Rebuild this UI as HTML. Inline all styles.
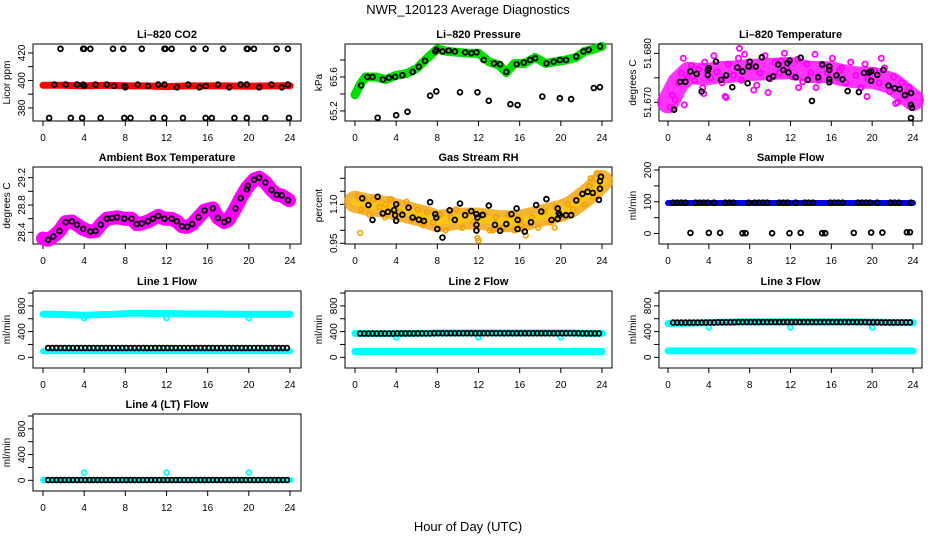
<!DOCTYPE html>
<html><head><meta charset="utf-8"><style>
html,body{margin:0;padding:0;background:#fff;}
svg{display:block;font-family:"Liberation Sans",Arial,sans-serif;}
</style></head><body>
<svg id="chart" width="936" height="540" viewBox="0 0 936 540" xmlns="http://www.w3.org/2000/svg">
<text x="468" y="14" text-anchor="middle" font-size="13">NWR_120123  Average Diagnostics</text>
<text x="468" y="531" text-anchor="middle" font-size="13">Hour of Day (UTC)</text>
</svg>
<script>
// ---------- data ----------
const xTicks = [0,4,8,12,16,20,24];
const flowTimes = [0.5,0.9,1.3,1.7,2.1,2.5,2.9,3.3,3.7,4.1,4.5,4.9,5.3,5.7,6.1,6.5,6.9,7.3,7.7,8.1,8.5,8.9,9.3,9.7,10.1,10.5,10.9,11.3,11.7,12.1,12.5,12.9,13.3,13.7,14.1,14.5,14.9,15.3,15.7,16.1,16.5,16.9,17.3,17.7,18.1,18.5,18.9,19.3,19.7,20.1,20.5,20.9,21.3,21.7,22.1,22.5,22.9,23.3,23.7];
const hours = [0,1,2,3,4,5,6,7,8,9,10,11,12,13,14,15,16,17,18,19,20,21,22,23,24];

// CO2
const co2BandT = [0,2,4,6,8,10,12,14,16,18,20,22,24];
const co2BandV = [396.5,396.5,396,396.5,396,396,395.5,396,396,396,395.8,396,396.2];
const co2T = [1.1,2.2,3.3,3.9,4,5.1,6.2,6.9,7.9,8,9.2,10.2,11.2,11.8,13,14.1,15.2,15.8,17,18.1,19.2,19.8,21,22.2,23.2,23.8, 1.7,3.9,4,4.6,6.8,7.8,9.6,11.8,11.9,12.5,14.6,15.8,17.5,19.8,19.9,20.5,22.7,23.8, 0.6,2.7,3.8,5.6,7.9,8.5,10.7,11.8,13.6,15.8,16.4,18.6,19.8,21.6,23.9];
const co2V = [397,397,397,397,396,397,397,396,396,395,397,396,397,397,395,397,395,396,397,395,397,397,395,397,395,397, 423,423,423,423,423,423,423,423,423,423,423,423,423,423,423,423,423,423, 372.7,372.7,372.7,372.7,372.7,372.7,372.7,372.7,372.7,372.7,372.7,372.7,372.7,372.7,372.7];

// Pressure
const presBandT = [0,0.5,1,2,3,4,5,6,7,8,9,10,11,12,13,14,14.7,15.5,16.5,17.5,18.5,19.5,20.5,21.5,22.3,23,24];
const presBandV = [65.39,65.51,65.6,65.6,65.57,65.62,65.64,65.7,65.82,65.93,65.9,65.89,65.88,65.88,65.78,65.74,65.65,65.76,65.76,65.83,65.76,65.78,65.8,65.83,65.9,65.92,65.96];
const presT = [0.6,1.2,1.7,2.7,3.3,3.9,4.6,5.6,6.2,6.8,7.8,7.9,8.5,9.1,9.7,10.7,11.3,11.8,12.5,13.5,14.1,14.7,15.7,16.4,17,17.5,18.6,19.3,19.9,20.5,21.5,22.2,22.7,23.8, 2.2,4,5.1,7.3,7.9,10.2,11.9,13,15.1,15.8,18.2,19.9,21,23.2,23.8];
const presV = [65.5,65.6,65.6,65.57,65.59,65.6,65.62,65.66,65.72,65.79,65.9,65.92,65.9,65.91,65.9,65.89,65.88,65.89,65.8,65.76,65.75,65.66,65.75,65.77,65.8,65.82,65.76,65.78,65.8,65.8,65.84,65.9,65.92,65.96, 65.12,65.15,65.19,65.38,65.43,65.42,65.42,65.32,65.28,65.27,65.37,65.35,65.34,65.47,65.48];

// Li-820 temperature
const tempBandV = [51.6700,51.6740,51.6760,51.6758,51.6758,51.6762,51.6762,51.6764,51.6766,51.6767,51.6768,51.6769,51.6770,51.6766,51.6762,51.6762,51.6761,51.6756,51.6752,51.6750,51.6750,51.6745,51.6738,51.6722,51.6705];
const tempPinkT = [0.2,0.4,0.7,1.0,1.3,1.5,1.9,2.3,2.6,3.0,3.4,3.6,4.2,4.5,4.8,5.3,5.6,5.9,6.4,6.9,7.2,7.5,8.2,8.7,9.0,9.5,10.0,10.5,10.9,11.4,11.6,12.2,12.7,13.2,13.6,14.0,14.4,14.8,15.2,15.6,16.1,16.6,17.0,17.4,17.9,18.4,18.9,19.3,19.6,20.2,20.7,21.2,21.7,22.1,22.5,22.9,23.3,23.6,1.6,5.7,7.0,9.8,11.1,14.5,19.5,22.3,3.5,8.4,12.8,16.8,20.9];
const tempPinkV = [51.6690,51.6715,51.6705,51.6740,51.6760,51.6790,51.6752,51.6775,51.6745,51.6768,51.6730,51.6782,51.6750,51.6795,51.6762,51.6740,51.6712,51.6778,51.6755,51.6790,51.6745,51.6798,51.6772,51.6735,51.6760,51.6795,51.6748,51.6782,51.6760,51.6800,51.6770,51.6752,51.6788,51.6742,51.6778,51.6760,51.6798,51.6745,51.6775,51.6760,51.6790,51.6750,51.6770,51.6740,51.6782,51.6755,51.6730,51.6778,51.6748,51.6765,51.6740,51.6770,51.6722,51.6752,51.6700,51.6740,51.6712,51.6730,51.6695,51.6710,51.6810,51.6720,51.6785,51.6730,51.6712,51.6698,51.6718,51.6725,51.6730,51.6765,51.6790];
const tempT = [0.6,1.2,1.7,2.2,2.8,3.3,3.9,3.9,4,4.7,5.2,5.7,6.3,6.8,7.3,7.8,7.9,8,8.6,9.2,9.9,10.3,10.8,11.3,11.7,11.8,11.9,12.5,13,13.7,14.1,14.7,15.1,15.8,15.8,15.8,15.8,16.5,17.1,17.6,18.7,19.2,19.7,19.9,19.9,20.5,21.1,21.6,22.2,22.7,23.2,23.8,23.8,23.9,23.8];
const tempV = [51.6685,51.6742,51.6742,51.6763,51.6758,51.6722,51.6766,51.6756,51.6770,51.6783,51.6746,51.6755,51.6731,51.6771,51.6763,51.6739,51.6773,51.6783,51.6773,51.6792,51.6749,51.6753,51.6777,51.6766,51.6780,51.6761,51.6785,51.6751,51.6791,51.6746,51.6703,51.6751,51.6777,51.6773,51.6766,51.6747,51.6741,51.6755,51.6747,51.6723,51.6721,51.6760,51.6761,51.6763,51.6744,51.6756,51.6766,51.6734,51.6729,51.6727,51.6715,51.6719,51.6695,51.6689,51.6668];

// Ambient box temperature
const ambBandT = [0,0.5,1,1.6,2.2,2.8,3.3,3.9,4.6,5.1,5.6,6.2,6.7,7.2,7.9,8.6,9.1,9.6,10.2,10.7,11.2,11.8,12.5,13,13.5,14,14.5,15.1,15.7,16.5,17,17.6,18,18.7,19.2,19.8,20.5,21,21.6,22.2,22.7,23.2,23.9];
const ambBandV = [28.31,28.29,28.34,28.42,28.55,28.56,28.51,28.45,28.41,28.42,28.51,28.6,28.61,28.62,28.6,28.6,28.52,28.53,28.56,28.6,28.64,28.6,28.6,28.56,28.49,28.48,28.52,28.62,28.72,28.75,28.61,28.55,28.58,28.75,28.9,29.05,29.17,29.2,29.13,29.02,28.95,28.94,28.87];
const ambT = [0.5,1,1.6,2.2,2.8,3.3,3.9,4.6,5.1,5.6,6.2,6.7,7.2,7.9,8.6,9.1,9.6,10.2,10.7,11.2,11.8,12.5,13,13.5,14,14.5,15.1,15.7,16.5,17,17.6,18,18.7,19.2,19.8,19.9,20.5,21,21.6,22.2,22.7,23.2,23.8];
const ambV = [28.29,28.34,28.42,28.55,28.56,28.51,28.45,28.41,28.42,28.51,28.6,28.61,28.62,28.6,28.6,28.52,28.53,28.56,28.6,28.64,28.6,28.6,28.56,28.49,28.48,28.52,28.62,28.72,28.75,28.61,28.55,28.58,28.75,28.9,29.03,29.08,29.17,29.2,29.13,29.02,28.95,28.94,28.87];

// Gas stream RH
const rhBandV = [1.11,1.10,1.095,1.09,1.08,1.07,1.06,1.05,1.035,1.04,1.045,1.045,1.045,1.04,1.035,1.035,1.035,1.045,1.055,1.065,1.075,1.09,1.12,1.15,1.19];
const rhOrangeT = [0.3,0.6,0.9,1.4,1.8,2.4,2.9,3.5,4.4,5.0,5.5,6.1,6.6,7.0,7.6,8.2,8.8,9.3,9.8,10.4,10.9,11.5,12.0,12.6,13.1,13.7,14.3,14.9,15.5,16.0,16.6,17.2,17.8,18.4,19.0,19.5,20.1,20.7,21.2,21.8,22.3,22.8,23.2,23.5,0.5,3.0,6.5,11.9,13.4,16.2,19.4,22.9];
const rhOrangeV = [1.13,1.08,1.12,1.06,1.12,1.09,1.05,1.12,1.07,1.11,1.04,1.08,1.02,1.07,1.03,1.06,1.00,1.05,1.08,1.01,1.07,1.03,0.96,1.06,1.00,1.05,1.01,1.06,1.00,1.04,0.98,1.05,1.01,1.07,1.03,1.09,1.05,1.10,1.08,1.13,1.10,1.17,1.13,1.22,0.99,1.10,1.03,0.97,1.00,1.02,1.01,1.20];
const rhT = [0.7,1.3,1.7,2.2,2.7,3.2,3.8,3.9,4,4,4.6,5.2,5.6,6.2,6.7,7.3,7.8,7.9,8,8.5,9.2,9.7,10.2,10.7,11.3,11.8,11.9,11.8,11.8,12.4,13,13.6,14.1,14.7,15.2,15.7,15.8,15.8,16.5,17.1,17.6,18.1,18.6,19.1,19.7,19.7,19.8,19.9,20.5,21,21.5,22.1,22.6,23.1,23.7,23.8,23.8,23.9];
const rhV = [1.123,1.097,1.04,1.129,1.065,1.071,1.078,1.058,1.037,1.10,1.06,1.087,1.049,1.041,1.036,1.108,1.062,1.049,1.005,0.972,1.077,1.04,1.103,1.058,1.074,1.062,1.049,1.021,0.999,1.059,1.095,1.021,0.998,1.024,1.062,1.084,1.04,1.005,0.995,1.031,1.097,1.072,1.12,1.04,1.044,1.084,1.065,1.058,1.058,1.058,1.115,1.14,1.148,1.144,1.117,1.16,1.189,1.206];

// Sample flow
const sampBandV = [96,96,96,96,96,96,96,96,96,96,96,96,96,96,96,96,96,96,96,96,96,96,96,96,96];
const sampT = [0.5,0.9,1.3,1.7,2.7,3.1,3.5,3.9,4.5,5.6,6.0,6.4,7.9,8.5,8.9,9.3,9.7,10.9,11.3,11.7,12.5,13.4,13.8,14.2,15.9,16.3,16.7,17.1,18.6,19.0,19.4,19.8,20.5,21.8,22.2,22.6,23.8, 2.2,4,5.1,7.3,7.6,10.2,11.9,13,15.1,15.4,18.2,19.9,21,23.4,23.7];
const sampV = [97,97,97,97,97,97,97,97,97,97,97,97,97,97,97,97,97,97,97,97,97,97,97,97,97,97,97,97,97,97,97,97,97,97,97,97,97, 2,2,2,1,1,1,1,2,1,1,2,3,3,4,4];

// Line flows
const l1Upper = [670,670,665,660,655,660,665,670,680,685,685,680,680,680,675,675,675,675,670,670,670,670,670,670,670];
const l1Lower = [95,95,95,95,95,95,95,95,95,95,95,95,95,95,95,95,95,95,95,95,95,95,95,95,95];
const l1Black = [145,145,145,145,145,145,145,145,145,145,145,145,145,145,145,145,145,145,145,145,145,145,145,145,145,145,145,145,145,145,145,145,145,145,145,145,145,145,145,145,145,145,145,145,145,145,145,145,145,145,145,145,145,145,145,145,145,145,145];
const l2Upper = [372,370,368,368,368,370,372,375,378,378,378,378,378,378,378,378,378,378,378,378,378,378,375,372,372];
const l2Lower = [90,90,90,90,90,90,90,90,90,90,90,90,90,90,90,90,90,90,90,90,90,90,90,90,90];
const l2Black = [370,370,370,370,370,370,370,370,370,372,372,372,372,372,372,372,372,372,374,374,374,374,374,374,374,374,374,374,374,374,374,374,374,374,374,374,374,374,374,374,374,374,374,374,374,374,374,374,374,374,374,374,374,374,372,372,372,372,372];
const l3Upper = [525,530,530,535,540,545,548,550,550,550,550,550,550,550,550,550,550,550,550,548,548,545,540,540,540];
const l3Lower = [100,100,100,100,100,100,100,100,100,100,100,100,100,100,100,100,100,100,100,100,100,100,100,100,100];
const l3Black = [540,540,540,540,540,540,540,540,540,540,540,545,545,545,545,545,548,548,548,548,548,548,548,548,548,548,548,548,548,548,548,548,548,548,548,548,548,548,548,548,548,548,548,548,548,548,548,548,545,545,545,542,542,542,542,542,542,542,542];
const l4Cyan = [5,5,5,5,5,5,5,5,5,5,5,5,5,5,5,5,5,5,5,5,5,5,5,5,5];
const l4Black = [5,5,5,5,5,5,5,5,5,5,5,5,5,5,5,5,5,5,5,5,5,5,5,5,5,5,5,5,5,5,5,5,5,5,5,5,5,5,5,5,5,5,5,5,5,5,5,5,5,5,5,5,5,5,5,5,5,5,5];
const dipT = [4,12,20];
const l1Dip = [610,610,610];
const l2Dip = [310,310,310];
const l3Dip = [465,465,465];
const l4Dip = [120,120,120];

// ---------- layout ----------
const NS = 'http://www.w3.org/2000/svg';
const svg = document.getElementById('chart');
const cols = [{L:33,R:301,x0:43,x1:290},{L:345,R:612,x0:355,x1:602},{L:659,R:922,x0:668,x1:913}];
const rows = [44,167,291,414];
const PH = 77;
function el(tag, attrs, parent){const e=document.createElementNS(NS,tag);for(const k in attrs)e.setAttribute(k,attrs[k]);(parent||svg).appendChild(e);return e;}

function panel(name, title, ci, ri, ylim, yTicks, yLabels, yTitle){
  const c=cols[ci], top=rows[ri], bot=top+PH;
  const g=el('g',{});
  
  
  const xs=v=>c.x0+(v/24)*(c.x1-c.x0);
  const ys=v=>bot-(v-ylim[0])/(ylim[1]-ylim[0])*PH;
  const t=el('text',{x:(c.L+c.R)/2,y:top-6,'text-anchor':'middle','font-size':'11','font-weight':'bold'},g);
  t.textContent=title;
  
  
  const box=el('rect',{x:c.L,y:top,width:c.R-c.L,height:PH,fill:'none',stroke:'#000','stroke-width':1},g);
  
  
  const xa=el('g',{},g);
  
  
  el('line',{x1:xs(0),x2:xs(24),y1:bot,y2:bot,stroke:'#000'},xa);
  xTicks.forEach(v=>{
    el('line',{x1:xs(v),x2:xs(v),y1:bot,y2:bot+5,stroke:'#000'},xa);
    const tl=el('text',{x:xs(v),y:bot+20,'text-anchor':'middle','font-size':'10'},xa);tl.textContent=v;
  });
  const ya=el('g',{},g);
  
  
  yTicks.forEach((v,i)=>{
    el('line',{x1:c.L,x2:c.L-5,y1:ys(v),y2:ys(v),stroke:'#000'},ya);
    if(yLabels[i]!==''){const tx=c.L-8,ty=ys(v);
      const tl=el('text',{x:tx,y:ty,'text-anchor':'middle','font-size':'10',transform:`rotate(-90 ${tx} ${ty})`},ya);tl.textContent=yLabels[i];}
  });
  const yt=el('text',{x:c.L-23,y:(top+bot)/2,'text-anchor':'middle','font-size':'10',transform:`rotate(-90 ${c.L-23} ${(top+bot)/2})`},g);
  yt.textContent=yTitle;
  
  
  return {g,xs,ys};
}
function band(p,name,T,V,color,w,op){
  const d=T.map((t,i)=>(i?'L':'M')+p.xs(t).toFixed(1)+','+p.ys(V[i]).toFixed(1)).join('');
  const e=el('path',{d,fill:'none',stroke:color,'stroke-width':w,'stroke-linecap':'round','stroke-linejoin':'round',opacity:op||1},p.g);
  
  
}
function pts(p,name,T,V,color,r,sw){
  const g=el('g',{},p.g);
  
  
  T.forEach((t,i)=>{el('circle',{cx:p.xs(t),cy:p.ys(V[i]),r:r||2.4,fill:'none',stroke:color,'stroke-width':sw||1.8},g);});
}

// CO2
let p=panel('co2-panel','Li–820 CO2',0,0,[370.5,426.5],[380,390,400,410,420],['380','','400','','420'],'Licor ppm');
band(p,'co2-band',co2BandT,co2BandV,'#f00',7);
pts(p,'co2-points',co2T,co2V,'#000');
// Pressure
p=panel('pressure-panel','Li–820 Pressure',1,0,[65.082,65.988],[65.2,65.4,65.6,65.8],['65.2','','65.6',''],'kPa');
band(p,'pressure-band',presBandT,presBandV,'#00e000',9);
pts(p,'pressure-points',presT,presV,'#000');
// Temp
p=panel('li820-temp-panel','Li–820 Temperature',2,0,[51.6662,51.6819],[51.670,51.675,51.680],['51.670','','51.680'],'degrees C');
band(p,'temp-band',hours,tempBandV,'#ff00ff',22,0.8);
pts(p,'temp-pink-points',tempPinkT,tempPinkV,'#ff00ff',2.6,1.8);
pts(p,'temp-points',tempT,tempV,'#000');
// Ambient
p=panel('ambient-panel','Ambient Box Temperature',0,1,[28.229,29.356],[28.4,28.6,28.8,29.0,29.2],['28.4','','28.8','','29.2'],'degrees C');
band(p,'ambient-band',ambBandT,ambBandV,'#ff00ff',14);
pts(p,'ambient-points',ambT,ambV,'#000');
// RH
p=panel('rh-panel','Gas Stream RH',1,1,[0.9473,1.2435],[0.95,1.00,1.05,1.10,1.15,1.20],['0.95','','','1.10','',''],'percent');
band(p,'rh-band',hours,rhBandV,'#f0a000',22,0.8);
band(p,'rh-band-core',hours,rhBandV,'#ffd000',8,0.6);
pts(p,'rh-orange-points',rhOrangeT,rhOrangeV,'#f5a000',2.4,1.6);
pts(p,'rh-points',rhT,rhV,'#000');
// Sample flow
p=panel('sample-flow-panel','Sample Flow',2,1,[-33,209.4],[0,50,100,150,200],['0','','100','','200'],'ml/min');
band(p,'sample-band',hours,sampBandV,'#0000ff',6);
pts(p,'sample-points',sampT,sampV,'#000');
// Line flows
const fT=[0,200,400,600,800,1000], fL=['0','','400','','800',''], fY=[-166,1031];
p=panel('line1-panel','Line 1 Flow',0,2,fY,fT,fL,'ml/min');
band(p,'line1-upper',hours,l1Upper,'#00ffff',7);
band(p,'line1-lower',hours,l1Lower,'#00ffff',6);
pts(p,'line1-dips',dipT,l1Dip,'#00ffff');
pts(p,'line1-points',flowTimes,l1Black,'#000');
p=panel('line2-panel','Line 2 Flow',1,2,fY,fT,fL,'ml/min');
band(p,'line2-upper',hours,l2Upper,'#00ffff',7);
band(p,'line2-lower',hours,l2Lower,'#00ffff',7);
pts(p,'line2-dips',dipT,l2Dip,'#00ffff');
pts(p,'line2-points',flowTimes,l2Black,'#000');
p=panel('line3-panel','Line 3 Flow',2,2,fY,fT,fL,'ml/min');
band(p,'line3-upper',hours,l3Upper,'#00ffff',7);
band(p,'line3-lower',hours,l3Lower,'#00ffff',7);
pts(p,'line3-dips',dipT,l3Dip,'#00ffff');
pts(p,'line3-points',flowTimes,l3Black,'#000');
p=panel('line4-panel','Line 4 (LT) Flow',0,3,fY,fT,fL,'ml/min');
band(p,'line4-band',hours,l4Cyan,'#00ffff',6);
pts(p,'line4-dips',dipT,l4Dip,'#00ffff');
pts(p,'line4-points',flowTimes,l4Black,'#000');
</script>
</body></html>
